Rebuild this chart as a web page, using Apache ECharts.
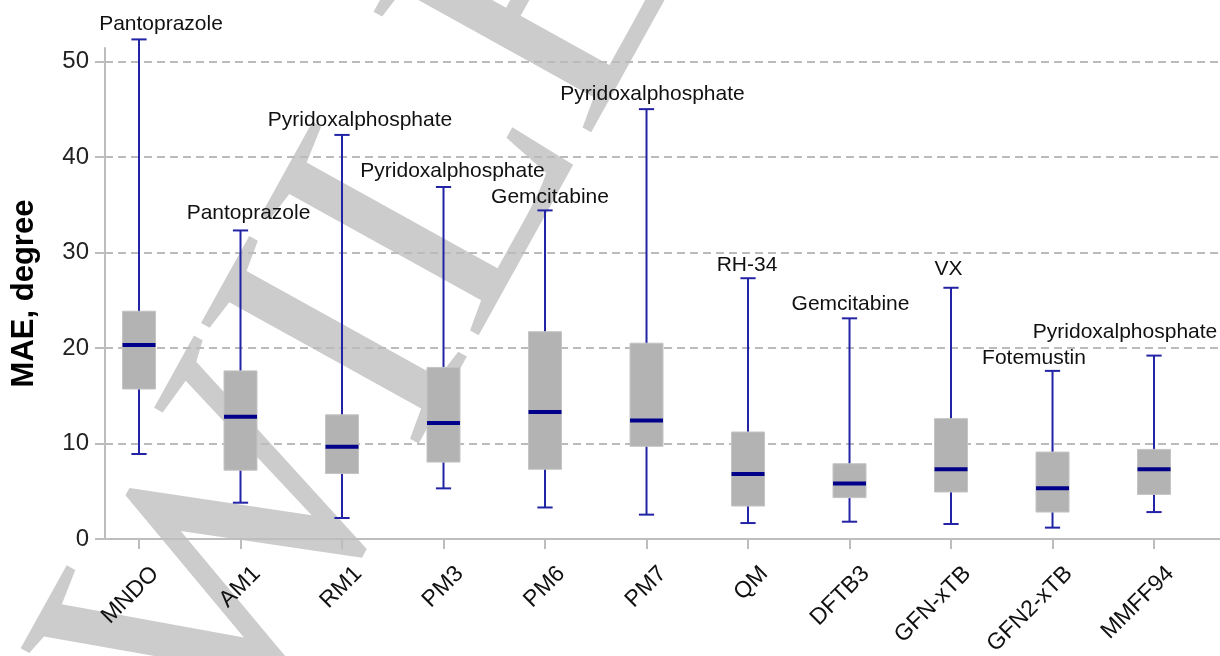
<!DOCTYPE html>
<html><head><meta charset="utf-8">
<script src="https://cdn.jsdelivr.net/npm/echarts@6/dist/echarts.min.js"></script>
<style>html,body{margin:0;padding:0;background:#fff}#c{width:1220px;height:656px}</style>
</head><body><div id="c"></div>
<script>
// ---- data ----
const categories = ['MNDO','AM1','RM1','PM3','PM6','PM7','QM','DFTB3','GFN-xTB','GFN2-xTB','MMFF94'];
const whiskerLow  = [8.9, 3.8, 2.2, 5.3, 3.3, 2.55, 1.67, 1.81, 1.57, 1.19, 2.82];
const q1          = [15.7, 7.2, 6.85, 8.05, 7.3, 9.7, 3.45, 4.33, 4.92, 2.82, 4.67];
const median      = [20.3, 12.8, 9.65, 12.15, 13.3, 12.4, 6.8, 5.8, 7.3, 5.3, 7.3];
const q3          = [23.85, 17.6, 13.0, 17.96, 21.7, 20.5, 11.2, 7.88, 12.6, 9.1, 9.38];
const whiskerHigh = [52.3, 32.3, 42.3, 36.85, 34.4, 45.0, 27.3, 23.1, 26.3, 17.6, 19.2];
const maxMolecule = ['Pantoprazole','Pantoprazole','Pyridoxalphosphate','Pyridoxalphosphate','Gemcitabine','Pyridoxalphosphate','RH-34','Gemcitabine','VX','Fotemustin','Pyridoxalphosphate'];
const yTicks = [0, 10, 20, 30, 40, 50];
const yAxisTitle = 'MAE, degree';
const watermarkText = 'WILEY';

// ---- styling (annotation placement offsets in px) ----
const noteDx = [22, 8, 18, 9, 5, 6, -1, 1, -2.5, -18.5, -29];
const noteDy = [-15, -17.5, -15, -16, -13, -14.5, -13.5, -14.3, -19, -12.5, -23];

const idx = categories.map((_, i) => i);
const boxData = idx.map(i => [i, whiskerLow[i], q1[i], median[i], q3[i], whiskerHigh[i]]);
const FONT = '"Liberation Sans", Arial, sans-serif';

function renderBox(params, api) {
  const i = params.dataIndex;
  const x = api.value(0);
  const lo = api.coord([x, api.value(1)]);
  const b1 = api.coord([x, api.value(2)]);
  const md = api.coord([x, api.value(3)]);
  const b3 = api.coord([x, api.value(4)]);
  const hi = api.coord([x, api.value(5)]);
  const band = api.size([1, 0])[0];
  const bw = band * 0.325, cw = band * 0.15;
  const cx = lo[0];
  const wStyle = {stroke: '#2323a6', lineWidth: 2};
  return {type: 'group', children: [
    {type: 'line', shape: {x1: cx, y1: hi[1], x2: cx, y2: lo[1]}, style: wStyle},
    {type: 'line', shape: {x1: cx - cw / 2, y1: hi[1], x2: cx + cw / 2, y2: hi[1]}, style: wStyle},
    {type: 'line', shape: {x1: cx - cw / 2, y1: lo[1], x2: cx + cw / 2, y2: lo[1]}, style: wStyle},
    {type: 'rect', shape: {x: cx - bw / 2, y: b3[1], width: bw, height: b1[1] - b3[1]},
      style: {fill: '#b3b3b3', stroke: '#c4c4c4', lineWidth: 1}},
    {type: 'line', shape: {x1: cx - bw / 2, y1: md[1], x2: cx + bw / 2, y2: md[1]},
      style: {stroke: '#00008b', lineWidth: 4}},
    {type: 'text', x: cx + noteDx[i], y: hi[1] + noteDy[i],
      style: {text: maxMolecule[i], align: 'center', verticalAlign: 'middle',
        fontSize: 21, fontFamily: FONT, fill: '#111'}}
  ]};
}

const chart = echarts.init(document.getElementById('c'), null, {renderer: 'canvas'});
chart.setOption({
  backgroundColor: '#fff',
  animation: false,
  grid: {left: 105, right: 0, top: 48, bottom: 117, containLabel: false, outerBoundsMode: 'none'},
  graphic: [{
    type: 'text', z: 1, x: 317, y: 813, rotation: 61 * Math.PI / 180, scaleX: 1.0,
    style: {text: watermarkText, fontSize: 380, fontFamily: '"Liberation Serif", serif',
      fill: '#cccccc', verticalAlign: 'bottom', align: 'left'}
  }],
  xAxis: {
    type: 'value', min: -0.335, max: 10.65, z: 5,
    axisLine: {show: true, onZero: false, lineStyle: {color: '#bdbdbd', width: 2}},
    axisTick: {show: true, length: 10, customValues: idx, lineStyle: {color: '#bdbdbd', width: 2}},
    axisLabel: {
      customValues: idx, rotate: 45, margin: 15, verticalAlign: 'top', lineHeight: 46,
      fontSize: 23, fontFamily: FONT, color: '#111',
      formatter: v => categories[Math.round(v)]
    },
    splitLine: {show: false}
  },
  yAxis: {
    type: 'value', min: 0, max: 51.4, interval: 10, z: 5,
    name: yAxisTitle, nameLocation: 'middle', nameRotate: 90, nameGap: 65,
    nameTextStyle: {fontSize: 31, fontWeight: 'bold', color: '#000', fontFamily: FONT},
    axisLine: {show: true, onZero: false, lineStyle: {color: '#bdbdbd', width: 2}},
    axisTick: {show: true, length: 10, customValues: yTicks, lineStyle: {color: '#bdbdbd', width: 2}},
    axisLabel: {customValues: yTicks, fontSize: 24, margin: 16, color: '#222', fontFamily: FONT},
    splitLine: {show: true, lineStyle: {color: '#bbbbbb', width: 2, type: [8, 5]}}
  },
  series: [{
    type: 'custom', z: 10, clip: false,
    renderItem: renderBox,
    encode: {x: 0, y: [1, 2, 3, 4, 5]},
    data: boxData
  }]
});
</script></body></html>
